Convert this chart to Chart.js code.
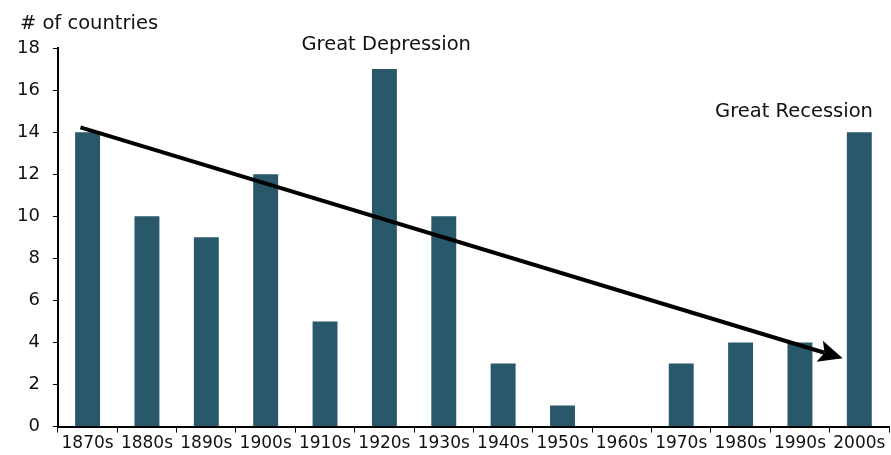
<!DOCTYPE html>
<html>
<head>
<meta charset="utf-8">
<title>Banking crises by decade</title>
<script src="https://cdn.jsdelivr.net/npm/chart.js"></script>
<style>
  html, body { margin: 0; padding: 0; background: #ffffff; }
  .chart-box { width: 891px; height: 455px; }
</style>
</head>
<body>
<div class="chart-box"><canvas id="crisisChart"></canvas></div>
<script>
// data
const decades = ['1870s', '1880s', '1890s', '1900s', '1910s', '1920s', '1930s',
                 '1940s', '1950s', '1960s', '1970s', '1980s', '1990s', '2000s'];
const countries = [14, 10, 9, 12, 5, 17, 10, 3, 1, 0, 3, 4, 4, 14];
const yTicks = [0, 2, 4, 6, 8, 10, 12, 14, 16, 18];

// trend arrow, in (category index, value) units
const arrowX = [-0.12, 12.72];
const arrowY = [14.23, 3.25];

// text notes, in (category index, value) units
const noteText = ['Great Depression', 'Great Recession'];
const noteX = [5.03, 11.9];
const noteY = [18.15, 14.95];

const axisTitle = '# of countries';
const barColor = '#28586A';
const fontName = "'DejaVu Sans', Verdana, sans-serif";

// draws the title, notes and trend arrow on top of the bars
const extrasPlugin = {
    id: 'extras',
    afterDatasetsDraw(chart) {
        const c = chart.ctx;
        const xs = chart.scales.x;
        const ys = chart.scales.y;
        c.save();
        c.fillStyle = '#111111';
        c.font = '19.5px ' + fontName;
        c.textBaseline = 'middle';

        c.textAlign = 'left';
        c.fillText(axisTitle, chart.chartArea.left - 38, chart.chartArea.top - 24);

        c.textAlign = 'center';
        noteText.forEach((t, i) => {
            c.fillText(t, xs.getPixelForValue(noteX[i]), ys.getPixelForValue(noteY[i]));
        });

        // arrow line
        const x0 = xs.getPixelForValue(arrowX[0]);
        const y0 = ys.getPixelForValue(arrowY[0]);
        const x1 = xs.getPixelForValue(arrowX[1]);
        const y1 = ys.getPixelForValue(arrowY[1]);
        const ang = Math.atan2(y1 - y0, x1 - x0);
        const headLen = 24, headHalf = 11, notch = 5;
        const cos = Math.cos(ang), sin = Math.sin(ang);
        const bx = x1 - headLen * cos;
        const by = y1 - headLen * sin;
        c.strokeStyle = '#000000';
        c.lineWidth = 4;
        c.beginPath();
        c.moveTo(x0, y0);
        c.lineTo(bx + notch * cos, by + notch * sin);
        c.stroke();
        c.fillStyle = '#000000';
        c.beginPath();
        c.moveTo(x1, y1);
        c.lineTo(bx + headHalf * sin, by - headHalf * cos);
        c.lineTo(bx + notch * cos, by + notch * sin);
        c.lineTo(bx - headHalf * sin, by + headHalf * cos);
        c.closePath();
        c.fill();
        c.restore();
    }
};

const ctx = document.getElementById('crisisChart').getContext('2d');
const crisisChart = new Chart(ctx, {
    type: 'bar',
    data: {
        labels: decades,
        datasets: [{
            label: '# of countries',
            data: countries,
            backgroundColor: barColor,
            borderWidth: 0,
            categoryPercentage: 1,
            barPercentage: 0.42
        }]
    },
    options: {
        responsive: true,
        maintainAspectRatio: false,
        animation: false,
        layout: { padding: { top: 48, left: 4, right: 2, bottom: 0 } },
        plugins: {
            legend: { display: false },
            tooltip: { enabled: false }
        },
        scales: {
            x: {
                grid: {
                    display: true,
                    drawOnChartArea: false,
                    drawTicks: true,
                    tickLength: 6,
                    offset: true,
                    color: '#000000'
                },
                border: { display: true, color: '#000000', width: 2 },
                ticks: {
                    color: '#111111',
                    font: { family: fontName, size: 17 },
                    autoSkip: false,
                    maxRotation: 0,
                    padding: 1
                }
            },
            y: {
                min: 0,
                max: 18,
                afterBuildTicks(axis) { axis.ticks = yTicks.map(v => ({ value: v })); },
                grid: {
                    display: true,
                    drawOnChartArea: false,
                    drawTicks: true,
                    tickLength: 5,
                    color: '#000000'
                },
                border: { display: true, color: '#000000', width: 2 },
                ticks: {
                    color: '#111111',
                    font: { family: fontName, size: 18 },
                    padding: 13
                }
            }
        }
    },
    plugins: [extrasPlugin]
});
</script>
</body>
</html>
